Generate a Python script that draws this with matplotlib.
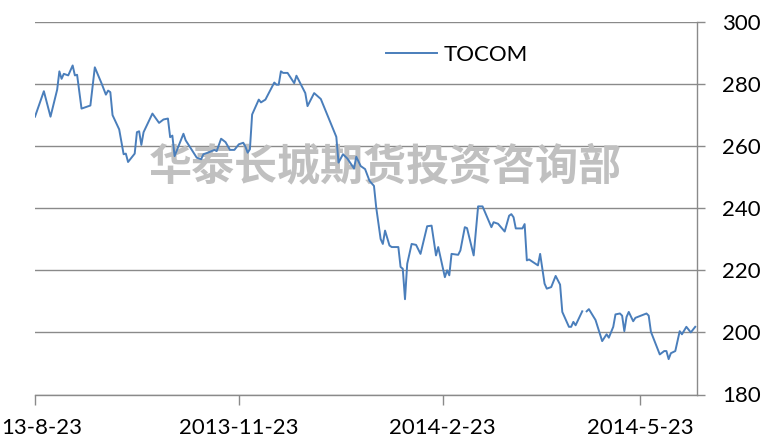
import matplotlib
matplotlib.use("Agg")
import matplotlib.pyplot as plt
import numpy as np
import pandas as pd
from matplotlib.ticker import FixedLocator, FixedFormatter

plt.rcParams['font.family'] = ['Lato', 'DejaVu Sans']

# ---- data ----
start_date = "2013-08-23"
day_offsets = [
    0, 4, 7, 10, 11, 12, 13, 15, 17, 18, 19, 21, 25, 27, 30, 32, 33, 34, 35, 38,
    40, 41, 42, 45, 46, 47, 48, 49, 53, 56, 58, 60, 61, 62, 63, 67, 68, 73, 75, 76,
    78, 81, 82, 84, 86, 88, 90, 92, 94, 95, 96, 97, 98, 101, 102, 104, 108, 109, 110, 111,
    112, 114, 117, 118, 122, 123, 126, 129, 136, 137, 139, 141, 144, 145, 147, 149, 151, 153, 154, 156,
    157, 158, 160, 161, 164, 165, 166, 167, 168, 170, 172, 174, 177, 179, 181, 182, 185, 186, 187, 188,
    191, 192, 194, 195, 198, 200, 202, 206, 207, 209, 212, 214, 215, 216, 217, 220, 221, 222, 223, 227,
    228, 230, 231, 233, 235, 237, 238, 241, 242, 243, 244, 247, 248, 249, 250, 253, 256, 258, 259, 261,
    262, 264, 265, 266, 267, 268, 270, 271, 276, 277, 278, 282, 284, 285, 286, 287, 289, 291, 292, 294,
    296, 298,
]
tocom = [
    269.5, 277.7, 269.5, 278.2, 284.1, 281.7, 283.3, 282.8, 286.0, 282.8, 283.0, 272.1, 273.1, 285.4, 280.3, 276.6, 277.9, 277.4, 270.0, 265.4,
    257.4, 257.6, 254.9, 257.6, 264.5, 264.8, 260.4, 264.5, 270.5, 267.5, 268.6, 268.9, 262.9, 263.4, 256.8, 264.0, 261.9, 256.3, 255.8, 257.4,
    257.9, 258.8, 258.4, 262.4, 261.3, 258.8, 258.8, 260.6, 261.1, 259.8, 257.9, 259.0, 270.2, 275.0, 274.1, 275.0, 280.5, 279.8, 279.8, 284.1,
    283.6, 283.6, 280.3, 282.7, 277.1, 272.9, 277.1, 275.2, 263.0, 254.7, 257.4, 256.0, 252.8, 256.6, 253.6, 252.6, 248.8, 247.2, 240.3, 230.1,
    228.5, 232.8, 228.0, 227.5, 227.5, 221.1, 220.5, 210.7, 222.1, 228.5, 228.2, 225.3, 234.2, 234.4, 224.8, 227.5, 217.8, 220.0, 218.4, 225.3,
    225.0, 226.4, 233.9, 233.6, 224.8, 240.6, 240.6, 233.9, 235.5, 235.0, 232.5, 237.6, 238.1, 237.1, 233.5, 233.5, 234.9, 223.2, 223.5, 221.6,
    225.3, 215.7, 214.1, 214.6, 218.2, 215.4, 206.6, 201.8, 201.8, 203.4, 202.3, 206.8, np.nan, 206.8, 207.5, 204.0, 197.2, 199.4, 198.3, 201.8,
    205.8, 206.1, 205.4, 200.4, 205.0, 206.6, 203.6, 204.7, 206.1, 205.4, 200.2, 192.9, 194.0, 194.0, 191.4, 193.3, 194.0, 200.4, 199.4, 201.8,
    200.0, 201.8,
]
series_name = "TOCOM"
y_ticks = [180, 200, 220, 240, 260, 280, 300]
x_tick_dates = ["2013-08-23", "2013-11-23", "2014-02-23", "2014-05-23"]
x_tick_labels = ["13-8-23", "2013-11-23", "2014-2-23", "2014-5-23"]
watermark = "华泰长城期货投资咨询部"
x_end_days = 298.8

# ---- figure ----
W, H = 769, 445
fig = plt.figure(figsize=(W / 100, H / 100), dpi=100)
left_px, right_px, top_px, bottom_px = 35, 697, 22, 394.5
ax = fig.add_axes([left_px / W, 1 - bottom_px / H,
                   (right_px - left_px) / W, (bottom_px - top_px) / H])

t0 = pd.Timestamp(start_date)
dates = t0 + pd.to_timedelta(day_offsets, unit="D")
grid_c = "#8a8a8a"
fs = 16

ax.plot(dates, tocom, color="#4a7ebb", lw=1.4, label=series_name, zorder=3)

ax.set_xlim(t0, t0 + pd.Timedelta(days=x_end_days))
ax.set_ylim(y_ticks[0], y_ticks[-1])

tick_pos = [matplotlib.dates.date2num(pd.Timestamp(d)) for d in x_tick_dates]
ax.xaxis.set_major_locator(FixedLocator(tick_pos))
# first label is placed separately (flush with the left edge, as in the reference)
ax.xaxis.set_major_formatter(FixedFormatter([""] + x_tick_labels[1:]))
ax.set_yticks(y_ticks)
ax.yaxis.tick_right()

ax.grid(axis="y", color=grid_c, lw=1.0, zorder=1)
ax.set_axisbelow(True)
for s in ("left", "top"):
    ax.spines[s].set_visible(False)
for s in ("right", "bottom"):
    ax.spines[s].set_color(grid_c)
    ax.spines[s].set_linewidth(1.0)

ax.tick_params(axis="y", left=False, right=True, labelleft=False, labelright=True,
               length=6, width=1.0, color=grid_c, pad=12, labelsize=fs, labelcolor="black")
ax.tick_params(axis="x", length=7, width=1.0, color=grid_c, pad=10, labelsize=fs,
               labelcolor="black")

# first x tick label, left aligned at the figure edge, same baseline as other labels
ref_lbl = ax.get_xticklabels()[1]
fig.text(1 / W, 0, x_tick_labels[0], fontsize=fs, ha="left", va="top",
         transform=matplotlib.transforms.blended_transform_factory(
             fig.transFigure, ref_lbl.get_transform()))
fig.canvas.draw()
ty = ref_lbl.get_window_extent().y1
fig.texts[-1].set_transform(fig.transFigure)
fig.texts[-1].set_position((1 / W, ty / fig.bbox.height))

ax.text((385.5 - left_px) / (right_px - left_px), (bottom_px - 166) / (bottom_px - top_px),
        watermark, transform=ax.transAxes, ha="center", va="center",
        fontsize=31, color="#c0c0c0", fontweight="bold",
        family=["Noto Sans CJK SC", "DejaVu Sans"], zorder=2)

ax.legend(loc="center left", bbox_to_anchor=(385.7 / W, 1 - 55 / H),
          bbox_transform=fig.transFigure, frameon=False, fontsize=fs,
          handlelength=2.3, handletextpad=0.3, borderpad=0, borderaxespad=0)

fig.savefig("out.png", dpi=100)
